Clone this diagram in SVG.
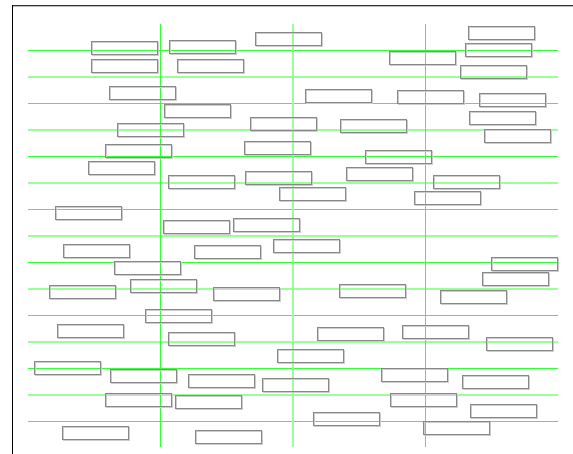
<svg xmlns="http://www.w3.org/2000/svg" width="573" height="454" viewBox="0 0 573 454">
<style>
.hb{stroke:#33ff33;stroke-width:1}
.hl{stroke:#99ff99;stroke-width:2}
.bs{fill:none;stroke:#cccccc;stroke-width:1}
.bb{fill:none;stroke:#888888;stroke-width:1}
</style>
<defs>
<g id="box"><rect class="bs" x="1" y="1" width="66" height="13" fill="none" stroke="#cccccc"/><rect class="bb" x="0" y="0" width="66" height="13" fill="none" stroke="#888888"/></g>
</defs>
<rect width="573" height="454" fill="#ffffff"/>
<line x1="12" y1="5.5" x2="573" y2="5.5" stroke="#333333" stroke-width="1"/>
<line x1="12" y1="6.5" x2="573" y2="6.5" stroke="#bbbbbb" stroke-width="1"/>
<line x1="12.5" y1="5" x2="12.5" y2="454" stroke="#000000" stroke-width="1"/>
<g id="connectors">
<line class="hb" x1="28" y1="50.5" x2="558" y2="50.5"/>
<line class="hl" x1="28" y1="77" x2="558" y2="77"/>
<line class="hb" x1="28" y1="103.5" x2="558" y2="103.5"/>
<line class="hl" x1="28" y1="130" x2="558" y2="130"/>
<line class="hb" x1="28" y1="156.5" x2="558" y2="156.5"/>
<line class="hl" x1="28" y1="183" x2="558" y2="183"/>
<line class="hb" x1="28" y1="209.5" x2="558" y2="209.5"/>
<line class="hl" x1="28" y1="236" x2="558" y2="236"/>
<line class="hb" x1="28" y1="262.5" x2="558" y2="262.5"/>
<line class="hl" x1="28" y1="289" x2="558" y2="289"/>
<line class="hb" x1="28" y1="315.5" x2="558" y2="315.5"/>
<line class="hl" x1="28" y1="342" x2="558" y2="342"/>
<line class="hb" x1="28" y1="368.5" x2="558" y2="368.5"/>
<line class="hl" x1="28" y1="395" x2="558" y2="395"/>
<line class="hb" x1="28" y1="421.5" x2="558" y2="421.5"/>
<line class="hb" x1="160.5" y1="24" x2="160.5" y2="447"/>
<line class="hl" x1="293" y1="24" x2="293" y2="447"/>
<line class="hb" x1="425.5" y1="24" x2="425.5" y2="447"/>
</g>
<g id="n1" transform="translate(91.5,41.5)"><use href="#box"/></g>
<g id="n2" transform="translate(91.5,59.5)"><use href="#box"/></g>
<g id="n3" transform="translate(109.5,86.5)"><use href="#box"/></g>
<g id="n4" transform="translate(117.5,123.5)"><use href="#box"/></g>
<g id="n5" transform="translate(105.5,144.5)"><use href="#box"/></g>
<g id="n6" transform="translate(169.5,40.5)"><use href="#box"/></g>
<g id="n7" transform="translate(177.5,59.5)"><use href="#box"/></g>
<g id="n8" transform="translate(255.5,32.5)"><use href="#box"/></g>
<g id="n9" transform="translate(164.5,104.5)"><use href="#box"/></g>
<g id="n10" transform="translate(250.5,117.5)"><use href="#box"/></g>
<g id="n11" transform="translate(244.5,141.5)"><use href="#box"/></g>
<g id="n12" transform="translate(389.5,51.5)"><use href="#box"/></g>
<g id="n13" transform="translate(305.5,89.5)"><use href="#box"/></g>
<g id="n14" transform="translate(397.5,90.5)"><use href="#box"/></g>
<g id="n15" transform="translate(340.5,119.5)"><use href="#box"/></g>
<g id="n16" transform="translate(365.5,150.5)"><use href="#box"/></g>
<g id="n17" transform="translate(468.5,26.5)"><use href="#box"/></g>
<g id="n18" transform="translate(465.5,43.5)"><use href="#box"/></g>
<g id="n19" transform="translate(460.5,65.5)"><use href="#box"/></g>
<g id="n20" transform="translate(479.5,93.5)"><use href="#box"/></g>
<g id="n21" transform="translate(469.5,111.5)"><use href="#box"/></g>
<g id="n22" transform="translate(484.5,129.5)"><use href="#box"/></g>
<g id="n23" transform="translate(88.5,161.5)"><use href="#box"/></g>
<g id="n24" transform="translate(55.5,206.5)"><use href="#box"/></g>
<g id="n25" transform="translate(63.5,244.5)"><use href="#box"/></g>
<g id="n26" transform="translate(114.5,261.5)"><use href="#box"/></g>
<g id="n27" transform="translate(130.5,279.5)"><use href="#box"/></g>
<g id="n28" transform="translate(49.5,285.5)"><use href="#box"/></g>
<g id="n29" transform="translate(168.5,175.5)"><use href="#box"/></g>
<g id="n30" transform="translate(245.5,171.5)"><use href="#box"/></g>
<g id="n31" transform="translate(279.5,187.5)"><use href="#box"/></g>
<g id="n32" transform="translate(163.5,220.5)"><use href="#box"/></g>
<g id="n33" transform="translate(233.5,218.5)"><use href="#box"/></g>
<g id="n34" transform="translate(194.5,245.5)"><use href="#box"/></g>
<g id="n35" transform="translate(273.5,239.5)"><use href="#box"/></g>
<g id="n36" transform="translate(213.5,287.5)"><use href="#box"/></g>
<g id="n37" transform="translate(346.5,167.5)"><use href="#box"/></g>
<g id="n38" transform="translate(414.5,191.5)"><use href="#box"/></g>
<g id="n39" transform="translate(339.5,284.5)"><use href="#box"/></g>
<g id="n40" transform="translate(433.5,175.5)"><use href="#box"/></g>
<g id="n41" transform="translate(491.5,257.5)"><use href="#box"/></g>
<g id="n42" transform="translate(482.5,272.5)"><use href="#box"/></g>
<g id="n43" transform="translate(440.5,290.5)"><use href="#box"/></g>
<g id="n44" transform="translate(57.5,324.5)"><use href="#box"/></g>
<g id="n45" transform="translate(34.5,361.5)"><use href="#box"/></g>
<g id="n46" transform="translate(110.5,369.5)"><use href="#box"/></g>
<g id="n47" transform="translate(105.5,393.5)"><use href="#box"/></g>
<g id="n48" transform="translate(62.5,426.5)"><use href="#box"/></g>
<g id="n49" transform="translate(145.5,309.5)"><use href="#box"/></g>
<g id="n50" transform="translate(168.5,332.5)"><use href="#box"/></g>
<g id="n51" transform="translate(188.5,374.5)"><use href="#box"/></g>
<g id="n52" transform="translate(262.5,378.5)"><use href="#box"/></g>
<g id="n53" transform="translate(175.5,395.5)"><use href="#box"/></g>
<g id="n54" transform="translate(195.5,430.5)"><use href="#box"/></g>
<g id="n55" transform="translate(277.5,349.5)"><use href="#box"/></g>
<g id="n56" transform="translate(317.5,327.5)"><use href="#box"/></g>
<g id="n57" transform="translate(402.5,325.5)"><use href="#box"/></g>
<g id="n58" transform="translate(381.5,368.5)"><use href="#box"/></g>
<g id="n59" transform="translate(390.5,393.5)"><use href="#box"/></g>
<g id="n60" transform="translate(313.5,412.5)"><use href="#box"/></g>
<g id="n61" transform="translate(423.5,421.5)"><use href="#box"/></g>
<g id="n62" transform="translate(486.5,337.5)"><use href="#box"/></g>
<g id="n63" transform="translate(462.5,375.5)"><use href="#box"/></g>
<g id="n64" transform="translate(470.5,404.5)"><use href="#box"/></g>
</svg>
